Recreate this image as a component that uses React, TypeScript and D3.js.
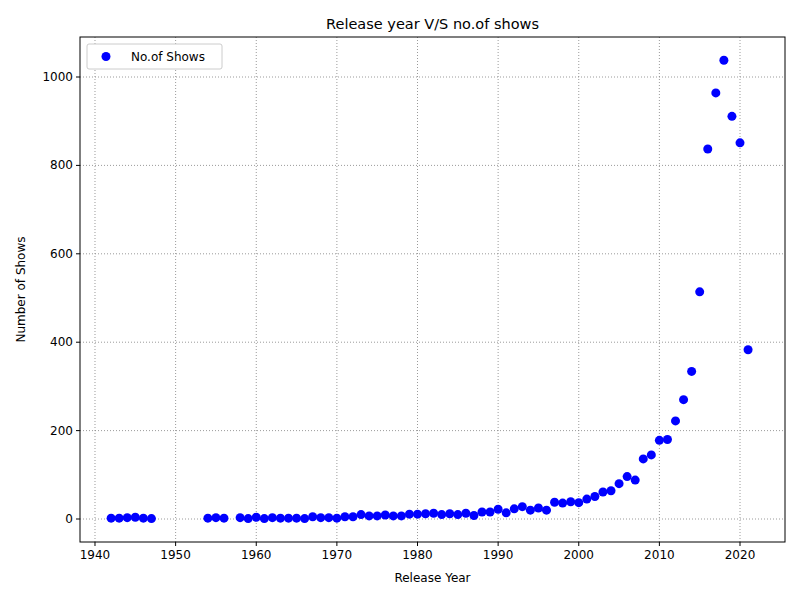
import React from 'react';
import * as d3 from 'd3';

const years = [1942,1943,1944,1945,1946,1947,1954,1955,1956,
  1958,1959,1960,1961,1962,1963,1964,1965,1966,1967,1968,1969,1970,1971,1972,1973,1974,1975,1976,1977,1978,1979,
  1980,1981,1982,1983,1984,1985,1986,1987,1988,1989,1990,1991,1992,1993,1994,1995,1996,1997,1998,1999,
  2000,2001,2002,2003,2004,2005,2006,2007,2008,2009,2010,2011,2012,2013,2014,2015,2016,2017,2018,2019,2020,2021];
const shows = [2,2,3,4,2,1,2,3,2,
  3,1,4,1,3,2,2,2,1,5,3,3,2,5,5,10,7,7,9,7,7,11,
  11,12,13,10,12,10,13,8,16,16,22,14,23,28,20,25,20,38,36,39,
  37,45,51,61,64,80,96,88,136,145,178,180,222,270,334,514,837,964,1038,911,851,383];
const xTicks = [1940,1950,1960,1970,1980,1990,2000,2010,2020];
const yTicks = [0,200,400,600,800,1000];

const W = 800, H = 600;
const m = { left: 80, right: 15, top: 37, bottom: 58 };

export default function App() {
  const x = d3.scaleLinear().domain([1938.14, 2025.58]).range([m.left, W - m.right]);
  const y = d3.scaleLinear().domain([-52, 1090.5]).range([H - m.bottom, m.top]);
  const font = 'DejaVu Sans, sans-serif';
  return (
    <svg width={W} height={H} style={{ position: 'absolute', left: 0, top: 0 }} fontFamily={font}>
      <rect width={W} height={H} fill="#fff" />
      {xTicks.map(t => (
        <g key={'x' + t}>
          <line x1={x(t)} x2={x(t)} y1={m.top} y2={H - m.bottom} stroke="#808080" strokeDasharray="1,2" strokeWidth={0.8} />
          <line x1={x(t)} x2={x(t)} y1={H - m.bottom} y2={H - m.bottom + 4} stroke="#000" />
          <text x={x(t)} y={H - m.bottom + 17} fontSize={12} textAnchor="middle">{t}</text>
        </g>
      ))}
      {yTicks.map(t => (
        <g key={'y' + t}>
          <line x1={m.left} x2={W - m.right} y1={y(t)} y2={y(t)} stroke="#808080" strokeDasharray="1,2" strokeWidth={0.8} />
          <line x1={m.left - 4} x2={m.left} y1={y(t)} y2={y(t)} stroke="#000" />
          <text x={m.left - 7} y={y(t) + 4} fontSize={12} textAnchor="end">{t}</text>
        </g>
      ))}
      {years.map((yr, i) => (
        <circle key={yr} cx={x(yr)} cy={y(shows[i])} r={4.5} fill="#0000ff" />
      ))}
      <rect x={m.left} y={m.top} width={W - m.left - m.right} height={H - m.top - m.bottom} fill="none" stroke="#000" />
      <text x={(m.left + W - m.right) / 2} y={29} fontSize={14.5} textAnchor="middle">Release year V/S no.of shows</text>
      <text x={(m.left + W - m.right) / 2} y={582} fontSize={12} textAnchor="middle">Release Year</text>
      <text transform={`translate(25,${(m.top + H - m.bottom) / 2}) rotate(-90)`} fontSize={12} textAnchor="middle">Number of Shows</text>
      <g>
        <rect x={87} y={44} width={135} height={25} fill="#fff" stroke="#ccc" rx={2} />
        <circle cx={106} cy={56.5} r={4.5} fill="#0000ff" />
        <text x={131} y={61} fontSize={12}>No.of Shows</text>
      </g>
    </svg>
  );
}
